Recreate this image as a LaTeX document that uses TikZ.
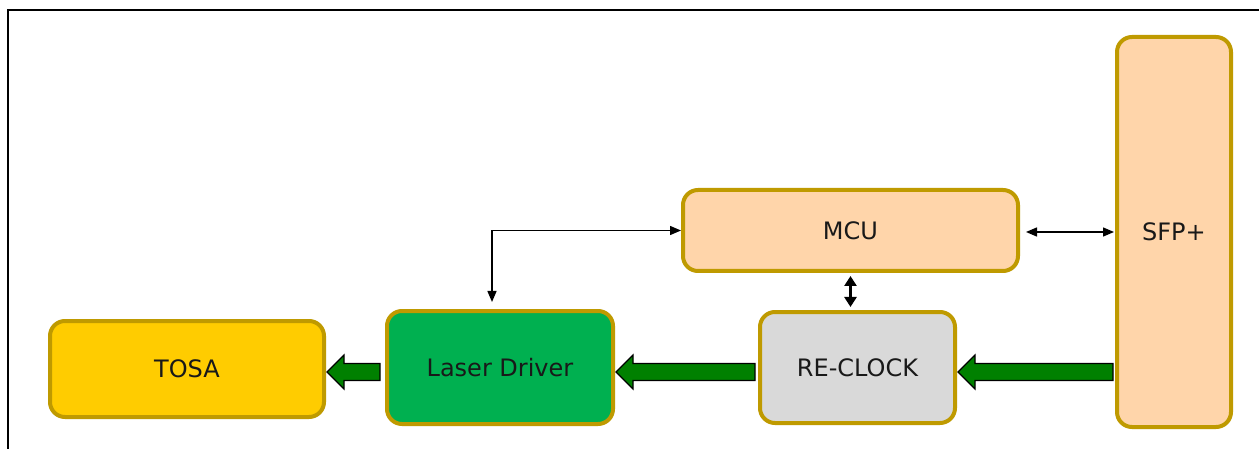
\documentclass[tikz,border=0pt]{standalone}
\usepackage{fontspec}
\setmainfont{DejaVu Sans}
\usetikzlibrary{calc,arrows.meta}
\definecolor{goldline}{HTML}{BF9A00}
\definecolor{tosafill}{HTML}{FFCC00}
\definecolor{ldfill}{HTML}{00B050}
\definecolor{rcfill}{HTML}{D9D9D9}
\definecolor{peach}{HTML}{FFD5AA}
\definecolor{arrgreen}{HTML}{008000}
\tikzset{
  blk/.style={draw=goldline, line width=4pt, rounded corners=15pt, inner sep=0pt,
    font=\fontsize{24}{28}\selectfont, text=black!90},
  barrow/.style={fill=arrgreen, draw=black, line width=1.2pt, line join=miter},
  thinarr/.style={line width=1.4pt, {Triangle[length=11pt,width=9pt]}-{Triangle[length=11pt,width=9pt]}},
  thickarr/.style={line width=2.6pt, {Triangle[length=10pt,width=12pt]}-{Triangle[length=10pt,width=12pt]}},
  onearr/.style={line width=1.4pt, -{Triangle[length=11pt,width=9pt]}}
}
\newcommand\blockarr[2]{\draw[barrow] (#1) -- ++(17,-17) -- ++(0,8.5) -- ($(#2)+(0,-8.5)$) -- ($(#2)+(0,8.5)$) -- ($(#1)+(17,8.5)$) -- ++(0,8.5) -- cycle;}
\begin{document}
\begin{tikzpicture}[x=1pt,y=-1pt]
\useasboundingbox (0,0) rectangle (1259,449);
\fill[white] (0,0) rectangle (1259,449);
\draw[line width=2pt, black] (7.5,460) -- (7.5,10.5) -- (1270,10.5);

\node[blk, fill=tosafill, minimum width=274pt, minimum height=96pt] (tosa) at (187,369) {TOSA};
\node[blk, fill=ldfill, minimum width=226pt, minimum height=113pt] (ld) at (500,367.5) {Laser Driver};
\node[blk, fill=rcfill, minimum width=195pt, minimum height=111pt] (rc) at (857.5,367.5) {RE-CLOCK};
\node[blk, fill=peach, minimum width=335pt, minimum height=81pt] (mcu) at (850.5,230.5) {MCU};
\node[blk, fill=peach, minimum width=114pt, minimum height=390pt] (sfp) at (1174,232) {SFP+};

\coordinate (row) at (0,372);
% block arrows
\coordinate (t1) at ($(rc.east |- row)+(1,0)$);
\coordinate (s1) at ($(sfp.west |- row)+(-2,0)$);
\blockarr{t1}{s1}
\coordinate (t2) at ($(ld.east |- row)+(1,0)$);
\coordinate (s2) at ($(rc.west |- row)+(-3,0)$);
\blockarr{t2}{s2}
\coordinate (t3) at ($(tosa.east |- row)+(1,0)$);
\coordinate (s3) at ($(ld.west |- row)+(-5,0)$);
\blockarr{t3}{s3}

% thin connectors
\draw[thinarr] ($(ld.north)+(-8,-7)$) |- (mcu.west);
\draw[thinarr] ($(mcu.east)+(6,1.5)$) -- ($(mcu.east -| sfp.west)+(-1,1.5)$);
\draw[thickarr] ($(mcu.south)+(0,3)$) -- ($(mcu.south |- rc.north)+(0,-3)$);
\end{tikzpicture}
\end{document}
